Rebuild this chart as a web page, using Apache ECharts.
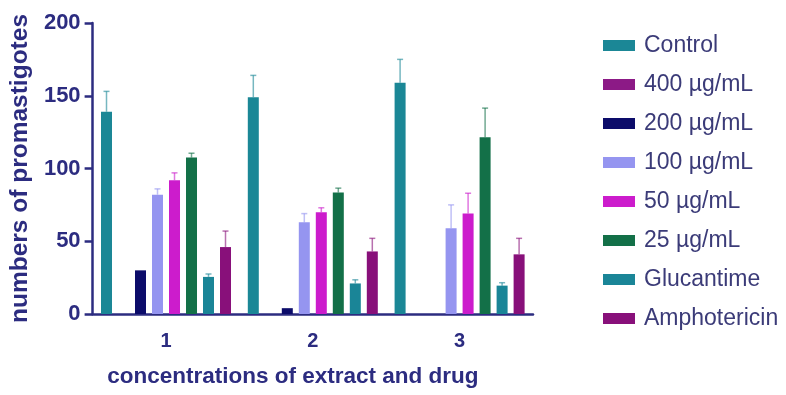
<!DOCTYPE html>
<html>
<head>
<meta charset="utf-8">
<script src="https://cdn.jsdelivr.net/npm/echarts@6/dist/echarts.min.js"></script>
<style>
html,body{margin:0;padding:0;background:#fff;}
#chart{width:786px;height:395px;}
</style>
</head>
<body>
<div id="chart"></div>
<script>
var categories = ['1', '2', '3'];
var seriesNames = ['Control', '400 µg/mL', '200 µg/mL', '100 µg/mL', '50 µg/mL', '25 µg/mL', 'Glucantime', 'Amphotericin'];
var controlVals = [139, 149, 159];
var c400Vals = [0, 0, 0];
var c200Vals = [30, 4, 0];
var c100Vals = [82, 63, 59];
var c50Vals = [92, 70, 69];
var c25Vals = [107.5, 83.5, 121.5];
var glucantimeVals = [25.5, 21, 19.5];
var amphoVals = [46, 43, 41];
var controlErr = [14, 15, 16];
var c400Err = [0, 0, 0];
var c200Err = [0, 0, 0];
var c100Err = [4, 6, 16];
var c50Err = [5, 3, 14];
var c25Err = [3, 3, 20];
var glucantimeErr = [2, 2.5, 2];
var amphoErr = [11, 9, 11];
var yTicks = [0, 50, 100, 150, 200];

var values = [controlVals, c400Vals, c200Vals, c100Vals, c50Vals, c25Vals, glucantimeVals, amphoVals];
var errors = [controlErr, c400Err, c200Err, c100Err, c50Err, c25Err, glucantimeErr, amphoErr];
var colors = ['#1b8796', '#8c1a86', '#0c0c6a', '#9595f0', '#cc1ccc', '#137048', '#1a8597', '#88107a'];
var navy = '#2c2c80';
var BAR_W = 11, GAP = 6;

var series = [];
values.forEach(function (vals, i) {
  series.push({
    name: seriesNames[i],
    type: 'bar',
    data: vals,
    barWidth: BAR_W,
    barGap: (GAP / BAR_W * 100) + '%',
    itemStyle: { color: colors[i] },
    z: 2
  });
});
values.forEach(function (vals, i) {
  series.push({
    name: seriesNames[i],
    type: 'custom',
    z: 3,
    silent: true,
    data: vals.map(function (v, k) { return [k, v, v + errors[i][k]]; }),
    renderItem: function (params, api) {
      var k = api.value(0);
      var lo = api.coord([k, api.value(1)]);
      var hi = api.coord([k, api.value(2)]);
      if (api.value(2) <= api.value(1)) return null;
      var x = lo[0] + (i - 3.5) * (BAR_W + GAP);
      var st = { stroke: colors[i], lineWidth: 1.5, opacity: 0.6 };
      return {
        type: 'group',
        children: [
          { type: 'line', shape: { x1: x, y1: lo[1], x2: x, y2: hi[1] }, style: st },
          { type: 'line', shape: { x1: x - 3, y1: hi[1], x2: x + 3, y2: hi[1] }, style: st }
        ]
      };
    }
  });
});

var chart = echarts.init(document.getElementById('chart'));
chart.setOption({
  animation: false,
  textStyle: { fontFamily: 'Liberation Sans, Arial, sans-serif' },
  grid: { left: 90, right: 253, top: 23, bottom: 81 },
  legend: {
    data: seriesNames,
    orient: 'vertical',
    left: 598,
    top: 29,
    itemWidth: 32,
    itemHeight: 11,
    itemGap: 16,
    icon: 'rect',
    textStyle: { fontSize: 23, color: '#3b3b78', lineHeight: 23, padding: [0, 0, 0, 4] }
  },
  xAxis: {
    type: 'category',
    data: categories,
    axisLine: { lineStyle: { color: navy, width: 2.5 } },
    axisTick: { alignWithLabel: true, length: 8, lineStyle: { color: navy, width: 2.5 } },
    axisLabel: { color: navy, fontSize: 20, fontWeight: 'bold', margin: 17 },
    name: 'concentrations of extract and drug',
    nameLocation: 'middle',
    nameGap: 51,
    nameTextStyle: { color: navy, fontSize: 22.5, fontWeight: 'bold', padding: [0, 40, 0, 0] }
  },
  yAxis: {
    type: 'value',
    min: yTicks[0],
    max: yTicks[yTicks.length - 1],
    interval: yTicks[1] - yTicks[0],
    splitLine: { show: false },
    axisLine: { show: true, lineStyle: { color: navy, width: 2.5 } },
    axisTick: { show: true, length: 8, lineStyle: { color: navy, width: 2.5 } },
    axisLabel: { color: navy, fontSize: 22, fontWeight: 'bold', margin: 12 },
    name: 'numbers of promastigotes',
    nameLocation: 'middle',
    nameGap: 55,
    nameTextStyle: { color: navy, fontSize: 24.5, fontWeight: 'bold' }
  },
  series: series
});
</script>
</body>
</html>
